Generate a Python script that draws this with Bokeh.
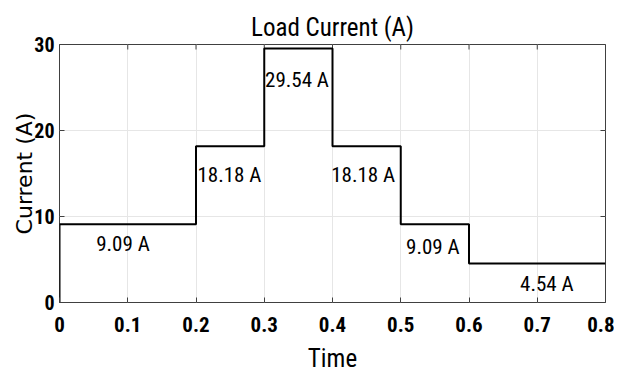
import math
from bokeh.plotting import figure
from bokeh.models import Range1d, FixedTicker, ColumnDataSource, LabelSet
from bokeh.core.properties import value
from bokeh.embed import file_html
from bokeh.resources import INLINE

# ---- data ----
step_times = [0.0, 0.2, 0.3, 0.4, 0.5, 0.6, 0.8]
step_currents = [9.09, 18.18, 29.54, 18.18, 9.09, 4.54]
label_texts = ["9.09 A", "18.18 A", "29.54 A", "18.18 A", "9.09 A", "4.54 A"]
label_x = [0.093, 0.249, 0.348, 0.445, 0.547, 0.714]
label_y = [6.86, 14.88, 25.93, 14.88, 6.40, 2.15]
x_ticks = [0, 0.1, 0.2, 0.3, 0.4, 0.5, 0.6, 0.7, 0.8]
y_ticks = [0, 10, 20, 30]

# staircase built from the step data (starts from 0 at t=0)
xs = [step_times[0]]
ys = [0.0]
for i, c in enumerate(step_currents):
    xs += [step_times[i], step_times[i + 1]]
    ys += [c, c]

COND = "Roboto Condensed"
FRAME = "#404040"

p = figure(width=614, height=375, output_backend="svg", toolbar_location=None,
           x_range=Range1d(x_ticks[0], x_ticks[-1]), y_range=Range1d(y_ticks[0], y_ticks[-1]),
           min_border_left=59, min_border_right=9, min_border_top=44, min_border_bottom=73)
p.background_fill_color = "white"
p.border_fill_color = "white"
p.outline_line_color = FRAME
p.outline_line_width = 1

p.title.text = "Load Current (A)"
p.title.align = "center"
p.title.text_font = COND
p.title.text_font_size = "25px"
p.title.text_font_style = "normal"
p.title.text_color = "black"
p.title.standoff = 6

p.grid.grid_line_color = "#e6e6e6"
p.grid.grid_line_width = 1
p.xgrid.ticker = FixedTicker(ticks=x_ticks)
p.ygrid.ticker = FixedTicker(ticks=y_ticks)

for ax, ticks, fs in ((p.xaxis[0], x_ticks, "21px"), (p.yaxis[0], y_ticks, "20px")):
    ax.ticker = FixedTicker(ticks=ticks)
    ax.major_label_overrides = {t: f"{t:g}" for t in ticks}
    ax.major_label_text_font = COND
    ax.major_label_text_font_style = "bold"
    ax.major_label_text_font_size = fs
    ax.major_label_text_color = "black"
    ax.axis_line_color = None
    ax.major_tick_in = 5
    ax.major_tick_out = 0
    ax.major_tick_line_color = FRAME
    ax.minor_tick_line_color = None
    ax.axis_label_text_color = "black"

p.xaxis.axis_label = "Time"
p.xaxis.axis_label_text_font = COND
p.xaxis.axis_label_text_font_size = "25px"
p.xaxis.axis_label_text_font_style = "normal"
p.xaxis.major_label_standoff = 14
p.xaxis.axis_label_standoff = 9

p.yaxis.axis_label = "Current (A)"
p.yaxis.axis_label_text_font = "DejaVu Sans"
p.yaxis.axis_label_text_font_size = "22px"
p.yaxis.axis_label_text_font_style = "normal"
p.yaxis.major_label_standoff = 5
p.yaxis.axis_label_standoff = -6

# mirrored inward ticks on the top and right edges (dash markers clipped by the frame)
p.scatter(x=x_ticks, y=[y_ticks[-1]] * len(x_ticks), marker="dash", size=10,
          angle=math.pi / 2, line_color=FRAME, line_width=1)
p.scatter(x=[x_ticks[-1]] * len(y_ticks), y=y_ticks, marker="dash", size=10,
          line_color=FRAME, line_width=1)

p.line(xs, ys, line_color="black", line_width=2)

src = ColumnDataSource(dict(x=label_x, y=label_y, t=label_texts))
p.add_layout(LabelSet(x="x", y="y", text="t", source=src, text_align="center",
                      text_baseline="middle", text_font=value(COND),
                      text_font_size="21px", text_color="black"))

open("out.html", "w").write(file_html(p, INLINE))
